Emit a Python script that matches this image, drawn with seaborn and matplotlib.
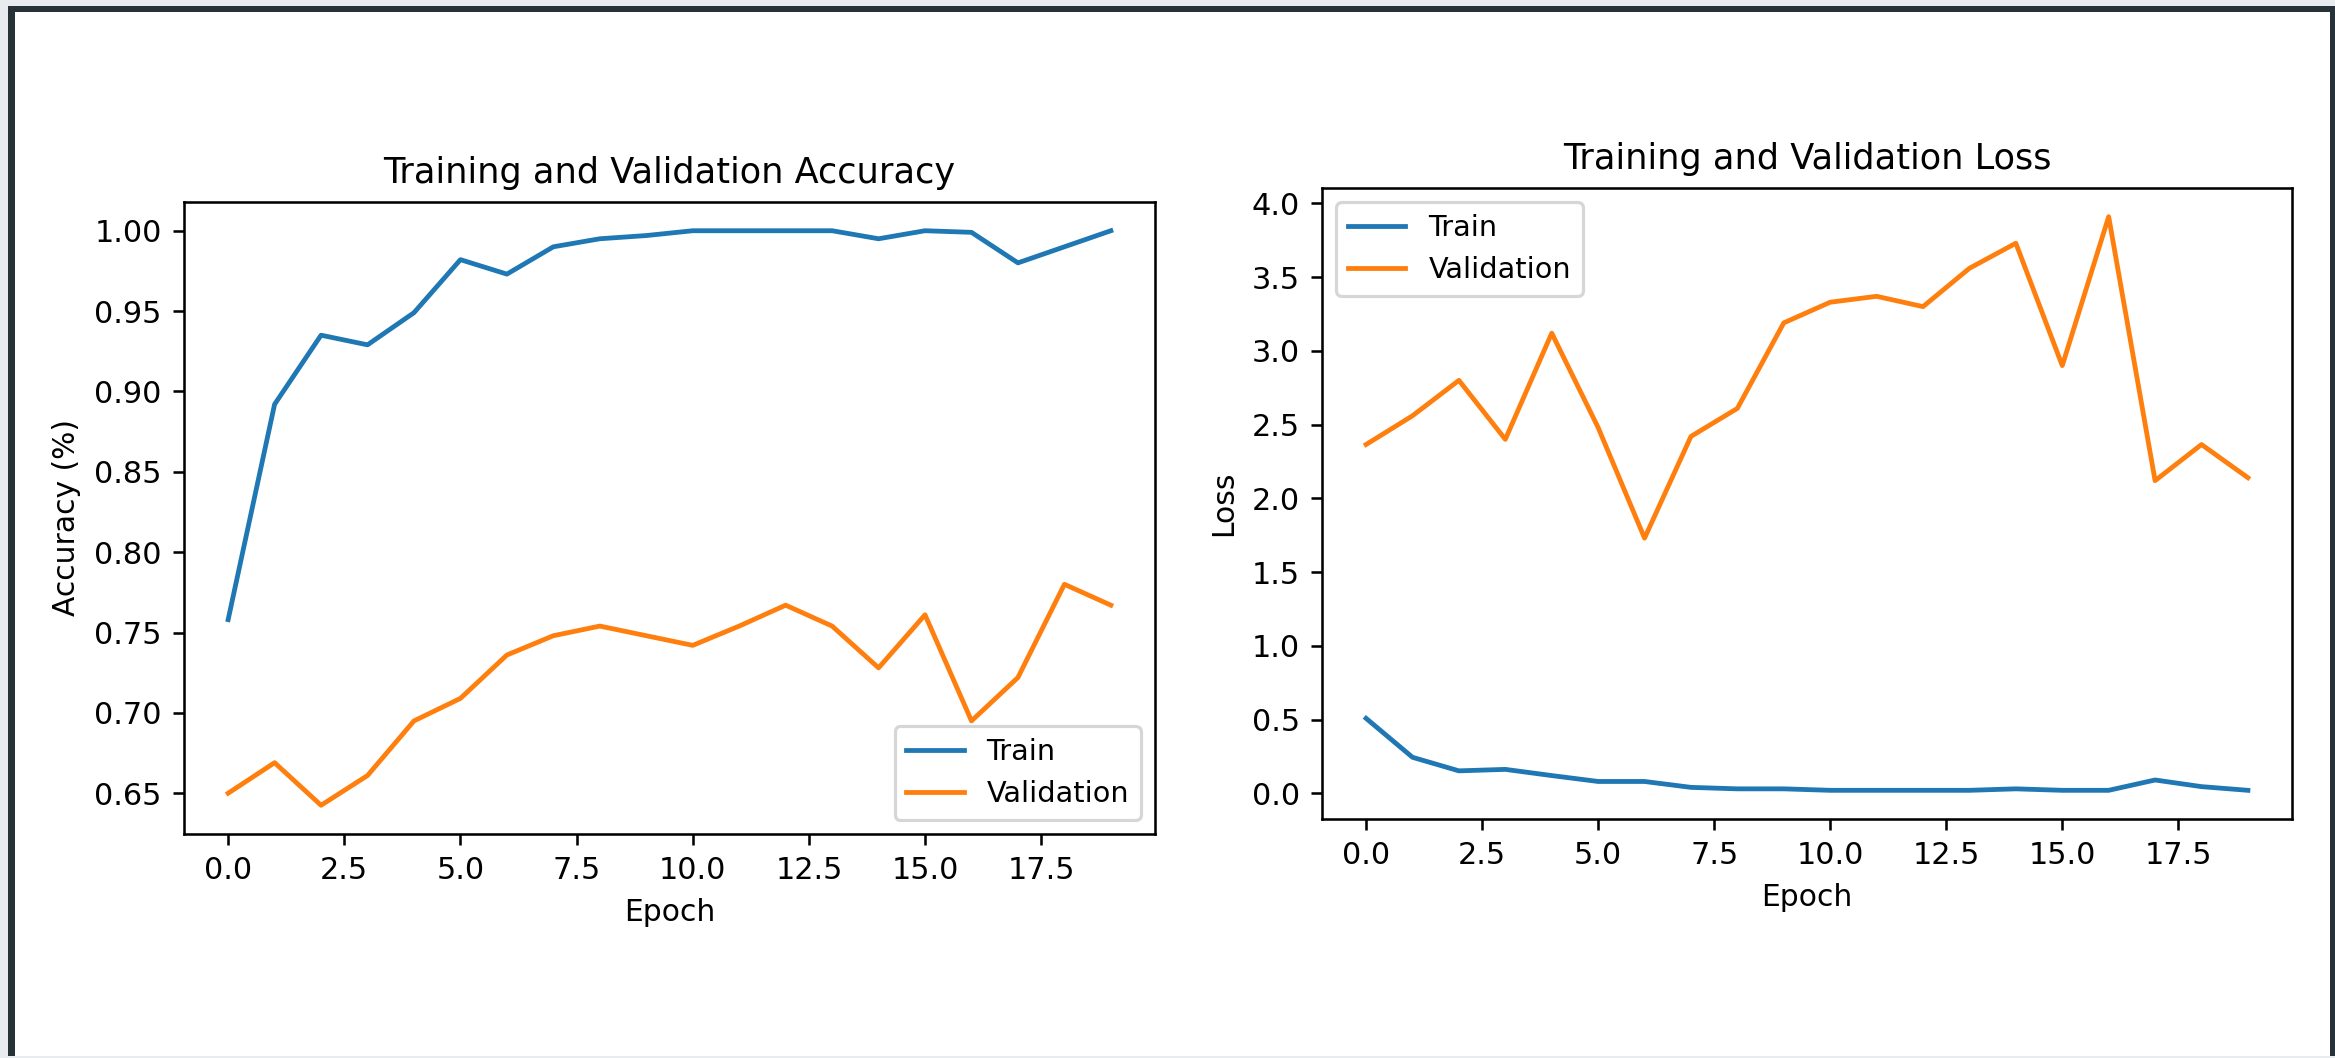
import numpy as np
import pandas as pd
import matplotlib
matplotlib.use("Agg")
import matplotlib.pyplot as plt
from matplotlib.patches import Rectangle
import seaborn as sns

# Training history (20 epochs)
epochs = list(range(20))
train_acc = [0.758, 0.892, 0.935, 0.929, 0.949, 0.982, 0.973, 0.990, 0.995, 0.997,
             1.000, 1.000, 1.000, 1.000, 0.995, 1.000, 0.999, 0.980, 0.990, 1.000]
val_acc = [0.650, 0.669, 0.6425, 0.661, 0.695, 0.709, 0.736, 0.748, 0.754, 0.748,
           0.742, 0.754, 0.767, 0.754, 0.728, 0.761, 0.695, 0.722, 0.780, 0.767]
train_loss = [0.508, 0.244, 0.152, 0.162, 0.120, 0.080, 0.080, 0.040, 0.030, 0.030,
              0.020, 0.020, 0.020, 0.020, 0.030, 0.020, 0.020, 0.090, 0.045, 0.020]
val_loss = [2.365, 2.56, 2.80, 2.40, 3.12, 2.48, 1.73, 2.42, 2.61, 3.19,
            3.33, 3.37, 3.30, 3.56, 3.73, 2.90, 3.91, 2.12, 2.365, 2.14]

plt.rcParams.update({
    "xtick.labelsize": 9.5,
    "ytick.labelsize": 9.5,
    "axes.labelsize": 9.3,
    "axes.titlesize": 11,
    "legend.fontsize": 9,
})

W, H, DPI = 2335, 1058, 230
fig = plt.figure(figsize=(W / DPI, H / DPI), dpi=DPI)
fig.patch.set_facecolor("#e8ecef")

def px_rect(x0, y0, x1, y1, color, z):
    fig.patches.append(Rectangle((x0 / W, 1 - y1 / H), (x1 - x0) / W, (y1 - y0) / H,
                                 transform=fig.transFigure, facecolor=color,
                                 edgecolor="none", zorder=z))

# window frame around the plots
px_rect(8, 6, W + 5, H - 2, "#263238", -3)
px_rect(15, 12, 2330, H - 2, "white", -2)

ax1 = fig.add_axes([184 / W, 1 - 834 / H, (1155 - 184) / W, (834 - 202) / H])
ax2 = fig.add_axes([1322 / W, 1 - 819 / H, (2292 - 1322) / W, (819 - 188) / H])

acc_df = pd.DataFrame({"Epoch": epochs, "Train": train_acc, "Validation": val_acc})
loss_df = pd.DataFrame({"Epoch": epochs, "Train": train_loss, "Validation": val_loss})

blue, orange = "#1f77b4", "#ff7f0e"
sns.lineplot(data=acc_df, x="Epoch", y="Train", ax=ax1, color=blue, label="Train", lw=1.5)
sns.lineplot(data=acc_df, x="Epoch", y="Validation", ax=ax1, color=orange, label="Validation", lw=1.5)
ax1.set_title("Training and Validation Accuracy")
ax1.set_xlabel("Epoch")
ax1.set_ylabel("Accuracy (%)")
ax1.legend(loc="lower right")

sns.lineplot(data=loss_df, x="Epoch", y="Train", ax=ax2, color=blue, label="Train", lw=1.5)
sns.lineplot(data=loss_df, x="Epoch", y="Validation", ax=ax2, color=orange, label="Validation", lw=1.5)
ax2.set_title("Training and Validation Loss")
ax2.set_xlabel("Epoch")
ax2.set_ylabel("Loss")
ax2.legend(loc="upper left")

for ax in (ax1, ax2):
    ax.set_xticks(np.arange(0, 20, 2.5))
    ax.set_xlim(-0.95, 19.95)

fig.savefig("out.png", dpi=DPI, facecolor=fig.get_facecolor())
